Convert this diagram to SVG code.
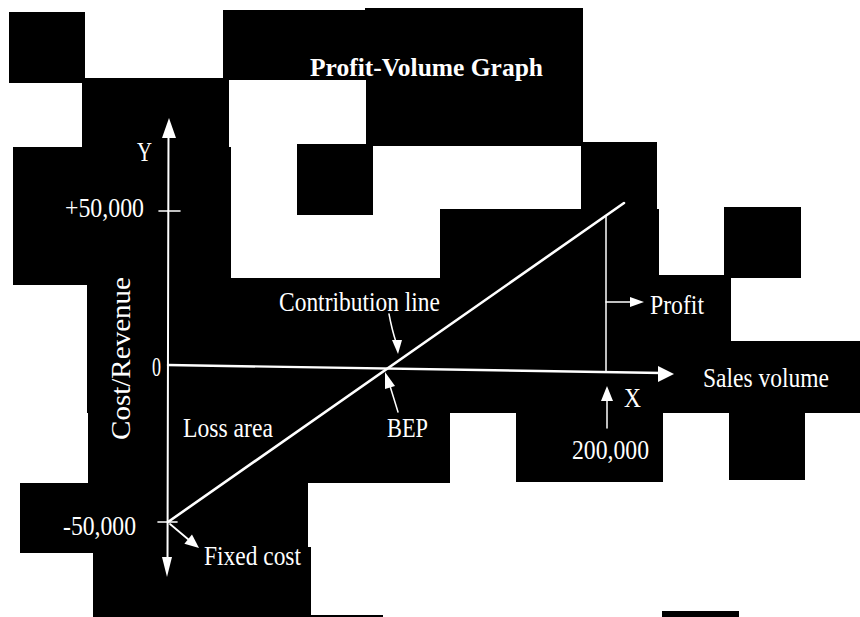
<svg xmlns="http://www.w3.org/2000/svg" width="860" height="617" viewBox="0 0 860 617">
  <style>
    .blk { fill: #000; }
    .ln { stroke: #fff; fill: none; stroke-linecap: round; }
    .ah { fill: #fff; stroke: none; }
    .lbl { fill: #fff; font-family: "Liberation Serif", "Times New Roman", serif; font-size: 28px; }
    .ttl { fill: #fff; font-family: "Liberation Serif", "Times New Roman", serif; font-size: 26px; font-weight: bold; }
  </style>
  <rect x="0" y="0" width="860" height="617" fill="#fff"/>

  <!-- dark panels behind the chart -->
  <g id="panels">
    <rect class="blk" x="9" y="12" width="76" height="71"/>
    <rect class="blk" x="223" y="10" width="143" height="70"/>
    <rect class="blk" x="365" y="8" width="218" height="72"/>
    <rect class="blk" x="366" y="79" width="217" height="67"/>
    <rect class="blk" x="82" y="78" width="147" height="70"/>
    <rect class="blk" x="13" y="147" width="218" height="138"/>
    <rect class="blk" x="297" y="144" width="76" height="71"/>
    <rect class="blk" x="581" y="142" width="76" height="67"/>
    <rect class="blk" x="440" y="209" width="219" height="70"/>
    <rect class="blk" x="724" y="207" width="77" height="71"/>
    <rect class="blk" x="87" y="278" width="644" height="64"/>
    <rect class="blk" x="659" y="275" width="72" height="67"/>
    <rect class="blk" x="87" y="341" width="773" height="72"/>
    <rect class="blk" x="88" y="412" width="362" height="71"/>
    <rect class="blk" x="516" y="412" width="147" height="70"/>
    <rect class="blk" x="729" y="412" width="76" height="68"/>
    <rect class="blk" x="20" y="483" width="288" height="70"/>
    <rect class="blk" x="93" y="547" width="218" height="70"/>
    <rect class="blk" x="311" y="615" width="72" height="2"/>
    <rect class="blk" x="662" y="611" width="77" height="6"/>
  </g>

  <g id="title">
    <text class="ttl" x="310" y="76" textLength="233" lengthAdjust="spacingAndGlyphs">Profit-Volume Graph</text>
  </g>

  <!-- axes -->
  <g id="y-axis">
    <line class="ln" x1="168.5" y1="132" x2="167.5" y2="562" stroke-width="2"/>
    <polygon class="ah" points="169,118 176,138 162,138"/>
    <polygon class="ah" points="167,577 162,557 172,557"/>
    <line class="ln" x1="159" y1="211" x2="180" y2="211" stroke-width="1.6"/>
    <line class="ln" x1="158" y1="522" x2="177" y2="522" stroke-width="1.6"/>
    <text class="lbl" x="137" y="161" font-size="27" textLength="15" lengthAdjust="spacingAndGlyphs">Y</text>
    <text class="lbl" x="65" y="217" font-size="25" textLength="79" lengthAdjust="spacingAndGlyphs">+50,000</text>
    <text class="lbl" x="152" y="376" textLength="9" lengthAdjust="spacingAndGlyphs">0</text>
    <text class="lbl" x="63" y="535" font-size="27" textLength="73" lengthAdjust="spacingAndGlyphs">-50,000</text>
    <text class="lbl" font-size="27" transform="translate(130,440) rotate(-90)" textLength="163" lengthAdjust="spacingAndGlyphs">Cost/Revenue</text>
  </g>

  <g id="x-axis">
    <line class="ln" x1="168" y1="365" x2="662" y2="373" stroke-width="2.4"/>
    <polygon class="ah" points="674,374 658,366 658,382"/>
    <text class="lbl" x="624" y="407" textLength="17" lengthAdjust="spacingAndGlyphs">X</text>
    <text class="lbl" x="703" y="387" font-size="27" textLength="126" lengthAdjust="spacingAndGlyphs">Sales volume</text>
  </g>

  <g id="contribution-line">
    <line class="ln" x1="168" y1="522" x2="624" y2="203" stroke-width="2.6"/>
  </g>

  <g id="profit-gap">
    <line class="ln" x1="606" y1="216" x2="606" y2="372" stroke-width="1.5"/>
  </g>

  <!-- labels -->
  <g id="label-contribution">
    <text class="lbl" x="279" y="311" textLength="161" lengthAdjust="spacingAndGlyphs">Contribution line</text>
  </g>
  <g id="label-loss">
    <text class="lbl" x="183" y="437" textLength="90" lengthAdjust="spacingAndGlyphs">Loss area</text>
  </g>
  <g id="label-bep">
    <text class="lbl" x="387" y="437" textLength="41" lengthAdjust="spacingAndGlyphs">BEP</text>
  </g>
  <g id="label-profit">
    <text class="lbl" x="650" y="314" textLength="54" lengthAdjust="spacingAndGlyphs">Profit</text>
  </g>
  <g id="label-volume">
    <text class="lbl" x="572" y="459" font-size="29" textLength="77" lengthAdjust="spacingAndGlyphs">200,000</text>
  </g>
  <g id="label-fixed">
    <text class="lbl" x="204" y="565" font-size="27" textLength="97" lengthAdjust="spacingAndGlyphs">Fixed cost</text>
  </g>

  <!-- pointer arrows -->
  <g id="connectors">
    <path class="ln" d="M389,314 Q392,330 396,342" stroke-width="1.5"/>
    <polygon class="ah" points="398,354 392,340 402,340"/>
    <line class="ln" x1="398" y1="412" x2="390" y2="386" stroke-width="1.5"/>
    <polygon class="ah" points="385,372 385,389 395,386"/>
    <line class="ln" x1="606" y1="302" x2="632" y2="302" stroke-width="1.5"/>
    <polygon class="ah" points="644,302 630,297 630,307"/>
    <line class="ln" x1="607" y1="428" x2="607" y2="398" stroke-width="1.5"/>
    <polygon class="ah" points="607,386 613,401 601,401"/>
    <line class="ln" x1="170" y1="524" x2="189" y2="540" stroke-width="1.8"/>
    <polygon class="ah" points="199,548 184.4,543.7 192,534.5"/>
  </g>
</svg>
